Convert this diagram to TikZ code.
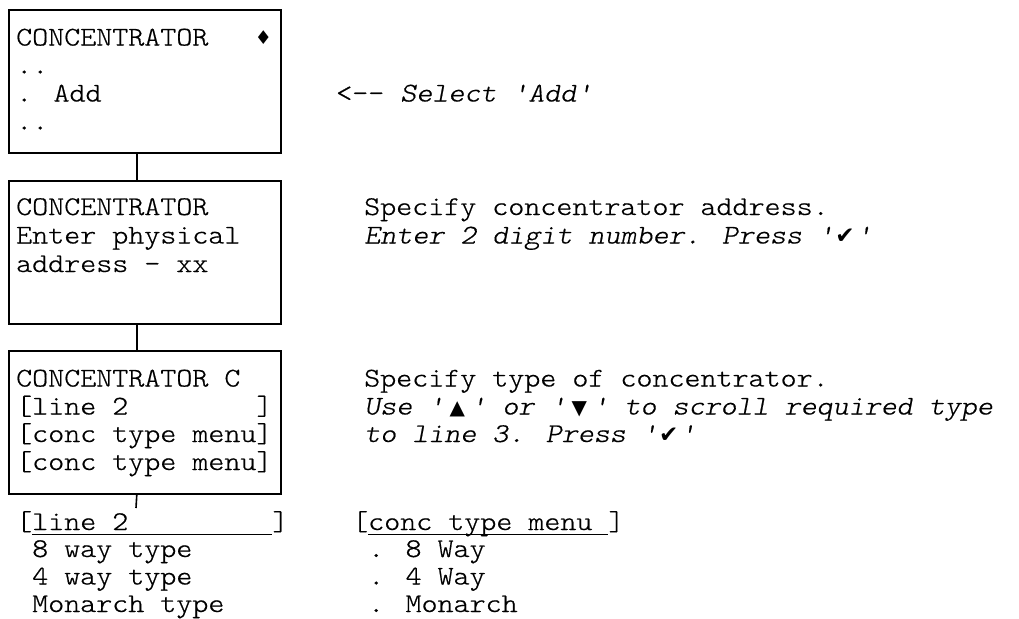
\documentclass[tikz,border=0pt]{standalone}
\usepackage{fontspec}
\newfontfamily\cour{lmmonolt10-regular}[Extension=.otf, FakeStretch=1.13, FakeBold=0.6,
  ItalicFont=lmmonolt10-oblique]
\newfontfamily\symf{DejaVu Sans}
% underline a run of monospaced text with a rule set just below the baseline
\newcommand\ulrun[1]{\setbox0\hbox{#1}\rlap{\rule[-5pt]{\wd0}{1.2pt}}\box0}
\newcommand\tri[1]{\makebox[26pt][c]{\symf\fontsize{20}{28}\selectfont #1}}
\newcommand\tick{\makebox[22pt][c]{\symf\fontsize{23}{28}\selectfont ✔}}
\begin{document}
\begin{tikzpicture}[x=1pt,y=-1pt,
  txt/.style={font=\cour\fontsize{27}{28}\selectfont, anchor=base west, inner sep=0pt},
  note/.style={font=\cour\itshape\fontsize{27}{28}\selectfont, anchor=base west, inner sep=0pt},
  screen/.style={draw, line width=1.6pt, minimum width=272pt, minimum height=143pt,
                 anchor=north west, inner sep=0pt},
  link/.style={line width=1.6pt}]
\useasboundingbox (0,0) rectangle (1019,618);

% display screens
\node[screen] (box1) at (8,9) {};
\node[screen] (box2) at (8,180) {};
\node[screen] (box3) at (8,350) {};

% screen 1
\node[txt] (s1a) at (16,45.5) {CONCENTRATOR};
\node[inner sep=0pt, font=\symf\fontsize{19}{20}\selectfont] (s1mark) at (263.5,38) {♦};
\node[txt] (s1b) at (16,73.5) {..};
\node[txt] (s1c) at (16,101.5) {. Add};
\node[txt] (s1d) at (16,129.5) {..};

% screen 2
\node[txt] (s2a) at (16,215) {CONCENTRATOR};
\node[txt] (s2b) at (16,243.5) {Enter physical};
\node[txt] (s2c) at (16,272) {address - xx};

% screen 3
\node[txt] (s3a) at (16,386.5) {CONCENTRATOR C};
\node[txt] (s3b) at (16,414.5) {[line 2~~~~~~~~]};
\node[txt] (s3c) at (16,442) {[conc type menu]};
\node[txt] (s3d) at (16,470) {[conc type menu]};

% instructions
\node[txt] (n1) at (336,101.5) {<-- \itshape Select 'Add'};
\node[txt] (n2a) at (364,215) {Specify concentrator address.};
\node[note] (n2b) at (364,243.5) {Enter 2 digit number. Press '\tick'};
\node[txt] (n3a) at (364,386.5) {Specify type of concentrator.};
\node[note] (n3b) at (364,414.5) {Use '\tri{▲}' or '\tri{▼}' to scroll required type};
\node[note] (n3c) at (364,442) {to line 3. Press '\tick'};

% line 2 and concentrator type lists
\node[txt] (l2h) at (16,530) {[\ulrun{line 2~~~~~~~~~}]};
\node[txt] (l2a) at (16,557) {~8 way type};
\node[txt] (l2b) at (16,584.5) {~4 way type};
\node[txt] (l2c) at (16,612) {~Monarch type};
\node[txt] (cth) at (352,530) {[\ulrun{conc type menu~}]};
\node[txt] (cta) at (352,557) {~. 8 Way};
\node[txt] (ctb) at (352,584.5) {~. 4 Way};
\node[txt] (ctc) at (352,612) {~. Monarch};

% connectors
\coordinate (stub) at (136,508);
\draw[link] ([xshift=-8pt]box1.south) -- ([xshift=-8pt]box2.north);
\draw[link] ([xshift=-8pt]box2.south) -- ([xshift=-8pt]box3.north);
\draw[link] ([xshift=-8pt]box3.south) -- (stub);
\end{tikzpicture}
\end{document}
